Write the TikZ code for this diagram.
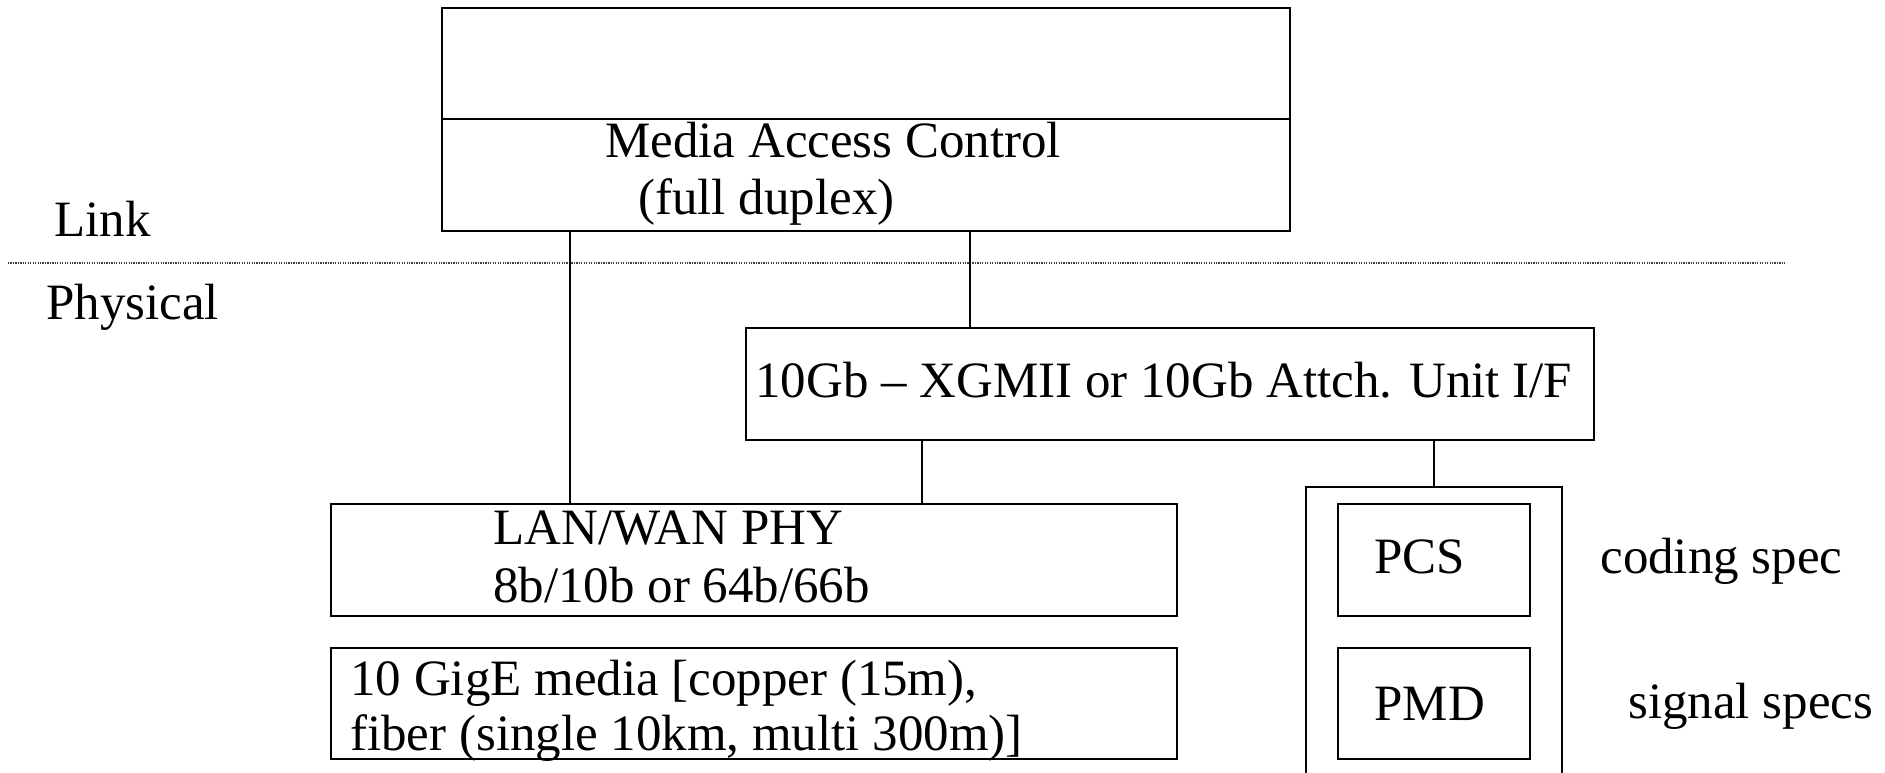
\documentclass[tikz,border=0pt]{standalone}
\usepackage{fontspec}
\setmainfont{Liberation Serif}
\usetikzlibrary{calc}

\begin{document}
\begin{tikzpicture}[
  box/.style = {draw, line width = 1pt, inner sep = 0pt, outer sep = 0pt},
  txt/.style = {inner sep = 0pt, anchor = base west, font = \fontsize{29}{35}\selectfont},
  wire/.style = {line width = 0.8pt}
]
\useasboundingbox (0, 0) rectangle (37.7, 15.44);
%\draw[very thin, color = gray](0, 0) grid (37, 15);
% link layer
\node [box, minimum width = 16.96cm, minimum height = 2.22cm] (mactop) at (17.32, 14.17) {};
\node [box, minimum width = 16.96cm, minimum height = 2.24cm] (mac) at (17.32, 11.94) {};
\node [txt] (mac1) at (12.10, 12.28) {Media Access Control};
\node [txt] (mac2) at (12.76, 11.14) {(full duplex)};
% layer border
\coordinate (dl) at (0.16, 10.18);
\coordinate (dr) at (35.7, 10.18);
\draw [line width = 0.6pt, color = black!75, dash pattern = on 0.7pt off 0.7pt] (dl) -- (dr);
\node [txt] (link) at (1.08, 10.70) {Link};
\node [txt] (phys) at (0.92, 9.04) {Physical};
% physical layer
\node [box, minimum width = 16.96cm, minimum height = 2.24cm] (attach) at (23.40, 7.76) {};
\node [txt] (attachtxt) at (15.10, 7.48) {10Gb – XGMII or 10Gb Attch. Unit I/F};
\node [box, minimum width = 16.92cm, minimum height = 2.24cm] (lan) at (15.08, 4.24) {};
\node [txt] (lan1) at (9.86, 4.55) {LAN/WAN PHY};
\node [txt] (lan2) at (9.86, 3.40) {8b/10b or 64b/66b};
\node [box, minimum width = 16.92cm, minimum height = 2.22cm] (media) at (15.08, 1.37) {};
\node [txt] (media1) at (7.00, 1.54) {10 GigE media [copper (15m),};
\node [txt] (media2) at (7.00, 0.44) {fiber (single 10km, multi 300m)]};
\node [box, minimum width = 5.12cm, minimum height = 6.18cm] (phy) at (28.68, 2.61) {};
\node [box, minimum width = 3.84cm, minimum height = 2.24cm] (pcs) at (28.68, 4.24) {};
\node [box, minimum width = 3.84cm, minimum height = 2.22cm] (pmd) at (28.68, 1.37) {};
\node [txt] (pcstxt) at (27.48, 3.98) {PCS};
\node [txt] (pmdtxt) at (27.48, 1.04) {PMD};
\node [txt] (coding) at (32.00, 3.98) {coding spec};
\node [txt] (signal) at (32.56, 1.08) {signal specs};
% connectors
\draw [wire] ($(lan.north west) + (4.78, 0)$) coordinate (d1) -- (d1 |- mac.south);
\draw [wire] ($(attach.north west) + (4.48, 0)$) coordinate (d2) -- (d2 |- mac.south);
\draw [wire] ($(lan.north west) + (11.82, 0)$) coordinate (d3) -- (d3 |- attach.south);
\draw [wire] (phy.north) -- (phy.north |- attach.south);
\end{tikzpicture}
\end{document}
